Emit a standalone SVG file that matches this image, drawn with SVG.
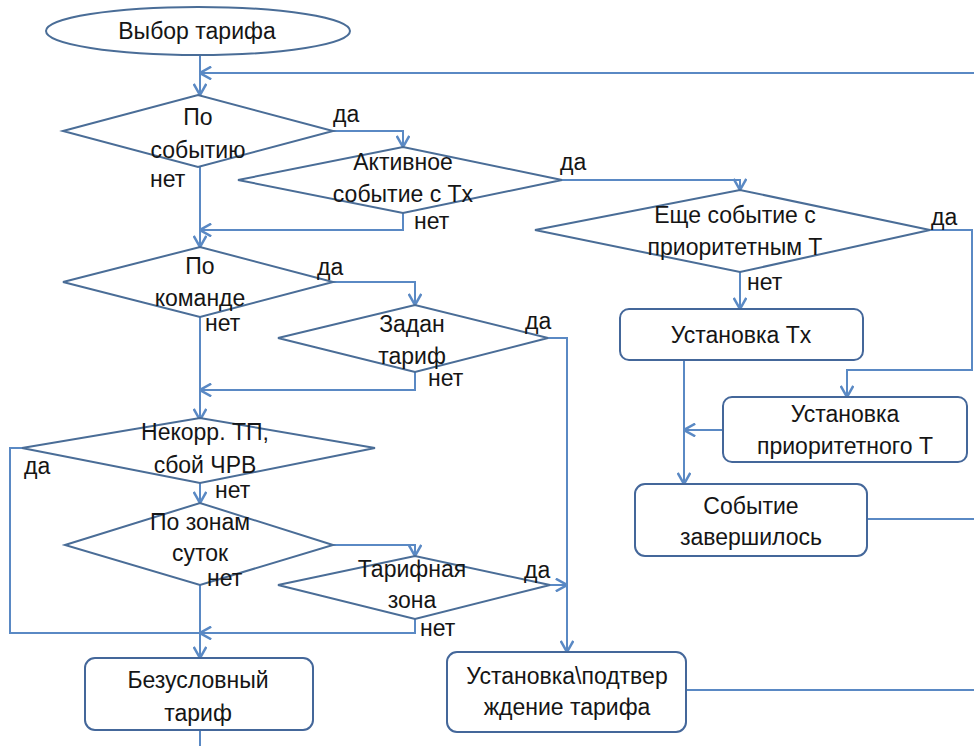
<svg xmlns="http://www.w3.org/2000/svg" width="974" height="746" viewBox="0 0 974 746">
<style>
.sh{fill:#fff;stroke:#4a6d97;stroke-width:2}
.bx{fill:#fff;stroke:#44679a;stroke-width:2}
.c{fill:none;stroke:#5a89c4;stroke-width:2}
.ca{fill:none;stroke:#5a89c4;stroke-width:2;marker-end:url(#ar)}
text{font-family:"Liberation Sans",Arial,sans-serif;font-size:23px;fill:#151515}
.m{text-anchor:middle}
</style>
<defs>
<marker id="ar" markerUnits="userSpaceOnUse" markerWidth="14" markerHeight="14" refX="9" refY="5" orient="auto" viewBox="0 0 10 10">
<path d="M1,0.5 L9,5 L1,9.5" fill="none" stroke="#5a89c4" stroke-width="1.8"/>
</marker>
</defs>
<g id="connectors">
<path class="ca" d="M200,55 V95"/>
<path class="ca" d="M974,73 H200"/>
<path class="ca" d="M333,131 H403 V147"/>
<path class="ca" d="M403,213 V230 H200"/>
<path class="ca" d="M200,167 V247"/>
<path class="ca" d="M562,180 H740 V190"/>
<path class="ca" d="M930,230 H972 V370 H847 V397"/>
<path class="ca" d="M740,272 V309"/>
<path class="ca" d="M684,360 V484"/>
<path class="ca" d="M723,430 H684"/>
<path class="c" d="M867,519 H974"/>
<path class="ca" d="M333,282 H415 V305"/>
<path class="ca" d="M415,372 V390 H200"/>
<path class="ca" d="M200,317 V420"/>
<path class="ca" d="M548,338 H567 V652"/>
<path class="c" d="M22,448 H10 V633 H200"/>
<path class="ca" d="M200,483 V503"/>
<path class="ca" d="M333,545 H415 V556"/>
<path class="ca" d="M550,585 H567"/>
<path class="ca" d="M415,619 V633 H200"/>
<path class="ca" d="M200,585 V658"/>
<path class="c" d="M200,730 V746"/>
<path class="c" d="M686,690 H974"/>
</g>
<g id="start">
<ellipse class="sh" cx="198" cy="31" rx="152" ry="24"/>
<text class="m" x="197" y="39">Выбор тарифа</text>
</g>
<g id="d-event">
<polygon class="sh" points="63,131 198,95 333,131 198,167"/>
<text class="m" x="198" y="125">По</text>
<text class="m" x="198" y="158">событию</text>
<text x="333" y="122">да</text>
<text x="150" y="187">нет</text>
</g>
<g id="d-active">
<polygon class="sh" points="238,180 403,147 562,180 403,213"/>
<text class="m" x="403" y="170">Активное</text>
<text class="m" x="403" y="202">событие с Tx</text>
<text x="414" y="229">нет</text>
<text x="560" y="170">да</text>
</g>
<g id="d-more">
<polygon class="sh" points="535,230 740,190 930,230 740,272"/>
<text class="m" x="735" y="223">Еще событие с</text>
<text class="m" x="735" y="255">приоритетным Т</text>
<text x="931" y="225">да</text>
<text x="747" y="290">нет</text>
</g>
<g id="b-settx">
<rect class="bx" x="620" y="309" width="243" height="51" rx="9"/>
<text class="m" x="741" y="343">Установка Tx</text>
</g>
<g id="b-setprio">
<rect class="bx" x="723" y="397" width="244" height="65" rx="9"/>
<text class="m" x="845" y="422">Установка</text>
<text class="m" x="845" y="454">приоритетного Т</text>
</g>
<g id="b-done">
<rect class="bx" x="635" y="484" width="232" height="72" rx="10"/>
<text class="m" x="751" y="514">Событие</text>
<text class="m" x="751" y="545">завершилось</text>
</g>
<g id="d-cmd">
<polygon class="sh" points="63,282 200,247 333,282 200,317"/>
<text class="m" x="200" y="274">По</text>
<text class="m" x="200" y="306">команде</text>
<text x="317" y="275">да</text>
<text x="205" y="331">нет</text>
</g>
<g id="d-set">
<polygon class="sh" points="278,338 415,305 548,338 415,372"/>
<text class="m" x="412" y="332">Задан</text>
<text class="m" x="412" y="364">тариф</text>
<text x="428" y="386">нет</text>
<text x="525" y="329">да</text>
</g>
<g id="d-err">
<polygon class="sh" points="22,448 200,418 375,448 200,483"/>
<text class="m" x="205" y="440">Некорр. ТП,</text>
<text class="m" x="205" y="473">сбой ЧРВ</text>
<text x="24" y="474">да</text>
<text x="215" y="498">нет</text>
</g>
<g id="d-zones">
<polygon class="sh" points="65,545 200,503 333,545 200,585"/>
<text class="m" x="200" y="530">По зонам</text>
<text class="m" x="200" y="561">суток</text>
<text x="207" y="586">нет</text>
</g>
<g id="d-zone">
<polygon class="sh" points="278,585 415,556 550,585 415,619"/>
<text class="m" x="412" y="577">Тарифная</text>
<text class="m" x="412" y="608">зона</text>
<text x="524" y="578">да</text>
<text x="420" y="636">нет</text>
</g>
<g id="b-uncond">
<rect class="bx" x="85" y="658" width="228" height="72" rx="10"/>
<text class="m" x="198" y="688">Безусловный</text>
<text class="m" x="198" y="721">тариф</text>
</g>
<g id="b-confirm">
<rect class="bx" x="447" y="652" width="239" height="80" rx="10"/>
<text class="m" x="567" y="684">Установка\подтвер</text>
<text class="m" x="567" y="715">ждение тарифа</text>
</g>
</svg>
